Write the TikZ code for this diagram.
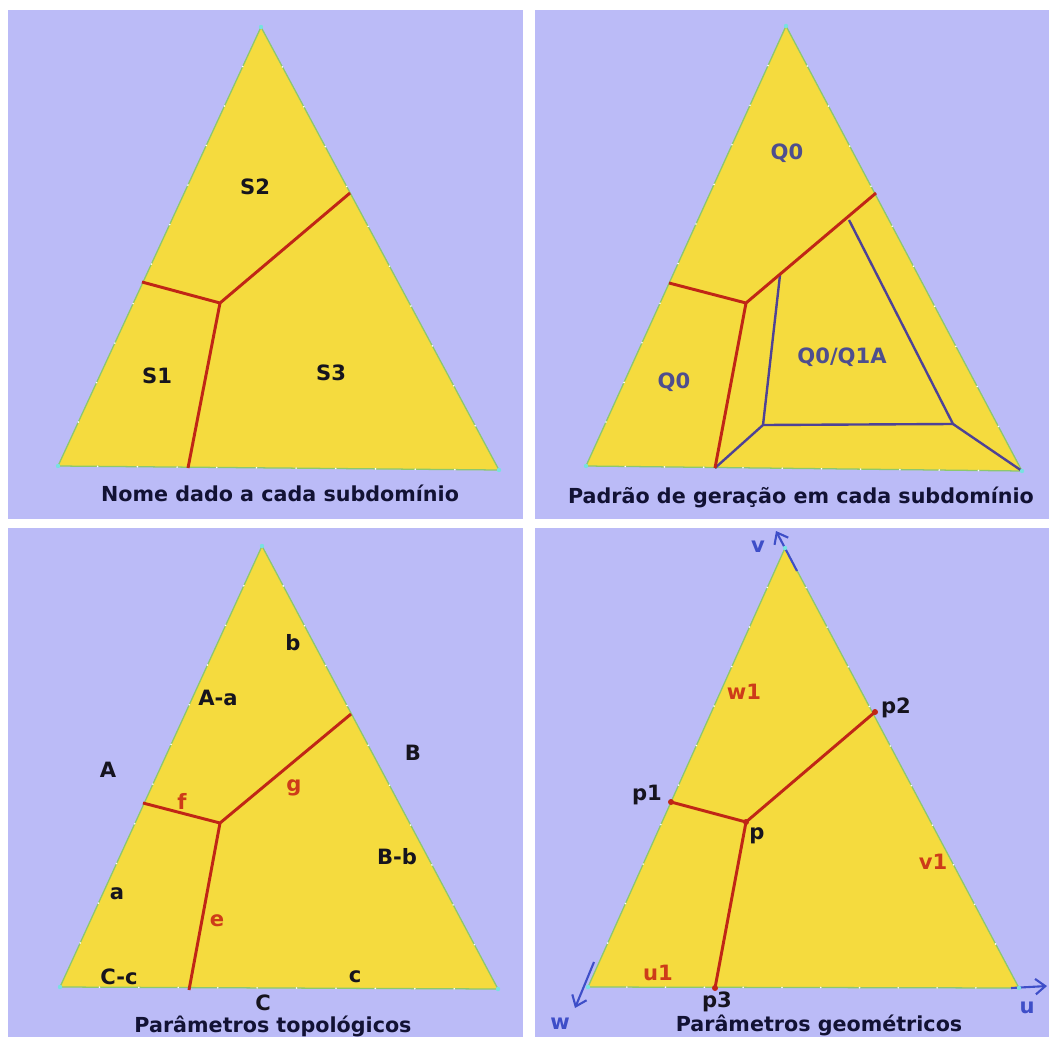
\documentclass[tikz,border=0pt]{standalone}
\usepackage{fontspec}
\setmainfont{DejaVu Sans}
\usetikzlibrary{arrows.meta,calc}

\definecolor{lavender}{RGB}{187,187,247}
\definecolor{triyellow}{RGB}{245,219,62}
\definecolor{edgegreen}{RGB}{140,200,110}
\definecolor{vertcyan}{RGB}{120,225,225}
\definecolor{cutred}{RGB}{192,38,22}
\definecolor{quadblue}{RGB}{78,66,150}
\definecolor{lblred}{RGB}{205,60,25}
\definecolor{lblblue}{RGB}{78,78,142}
\definecolor{lbldark}{RGB}{22,20,30}
\definecolor{titlenavy}{RGB}{18,18,52}
\definecolor{axisblue}{RGB}{62,78,200}

\begin{document}
\begin{tikzpicture}[x=0.025cm, y=-0.025cm,
    panel/.style={fill=lavender, draw=none},
    tri/.style={fill=triyellow, draw=edgegreen, line width=0.9pt, line join=round},
    cut/.style={draw=cutred, line width=2.1pt, line join=round},
    qline/.style={draw=quadblue, line width=1.7pt, line join=round},
    axis/.style={draw=axisblue, line width=1.5pt, -{Straight Barb[length=7pt,width=11pt]}},
    lbl/.style={font=\fontsize{15}{17}\selectfont\bfseries, inner sep=0pt},
    dark/.style={lbl, text=lbldark},
    redl/.style={lbl, text=lblred},
    bluel/.style={lbl, text=lblblue},
    axisl/.style={lbl, text=axisblue},
    title/.style={lbl, text=titlenavy, font=\fontsize{14.7}{17}\selectfont\bfseries},
    vdot/.style={fill=vertcyan, draw=none},
    pdot/.style={fill=cutred, draw=none}]

    \useasboundingbox (0,0) rectangle (1049,1037);
    \fill[white] (0,0) rectangle (1049,1037);

    % ============================================================
    % BACKGROUND PANELS
    % ============================================================
    \fill[panel] (8,10) rectangle (523,519);
    \fill[panel] (535,10) rectangle (1049,519);
    \fill[panel] (8,528) rectangle (523,1037);
    \fill[panel] (535,528) rectangle (1049,1037);

    % ============================================================
    % PANEL 1 : NAMES OF THE SUBDOMAINS
    % ============================================================
    \coordinate (a1) at (261,27);
    \coordinate (b1) at (58,466);
    \coordinate (c1) at (499,470);
    \coordinate (j1) at (220,303);
    \coordinate (l1) at (142,282);
    \coordinate (r1) at (350,193);
    \coordinate (d1) at (188,468);
    \draw[tri] (a1) -- (b1) -- (c1) -- cycle;
    \draw[cut] (l1) -- (j1) -- (r1);
    \draw[cut] (j1) -- (d1);
    \node[dark] (s2) at (255,187) {S2};
    \node[dark] (s1) at (157,376) {S1};
    \node[dark] (s3) at (331,373) {S3};
    \node[title] (t1) at (280,493) {Nome dado a cada subdomínio};

    % ============================================================
    % PANEL 2 : GENERATION PATTERN
    % ============================================================
    \coordinate (a2) at (786,26);
    \coordinate (b2) at (586,466);
    \coordinate (c2) at (1022,471);
    \coordinate (j2) at (746,303);
    \coordinate (l2) at (669,283);
    \coordinate (r2) at (876,193);
    \coordinate (d2) at (715,468);
    \coordinate (q1) at (849,220);
    \coordinate (q2) at (953,424);
    \coordinate (q3) at (763,425);
    \coordinate (q4) at (780,275);
    \draw[tri] (a2) -- (b2) -- (c2) -- cycle;
    \draw[qline] (q1) -- (q2) -- (q3) -- (q4);
    \draw[qline] (q3) -- (d2);
    \draw[qline] (q2) -- (c2);
    \draw[cut] (l2) -- (j2) -- (r2);
    \draw[cut] (j2) -- (d2);
    \node[bluel] (q0a) at (787,153) {Q0};
    \node[bluel] (q0b) at (674,382) {Q0};
    \node[bluel] (q0c) at (842,357) {Q0/Q1A};
    \node[title] (t2) at (801,497) {Padrão de geração em cada subdomínio};

    % ============================================================
    % PANEL 3 : TOPOLOGICAL PARAMETERS
    % ============================================================
    \coordinate (a3) at (262,546);
    \coordinate (b3) at (60,987);
    \coordinate (c3) at (498,989);
    \coordinate (j3) at (220,823);
    \coordinate (l3) at (143,803);
    \coordinate (r3) at (351,714);
    \coordinate (d3) at (189,990);
    \draw[tri] (a3) -- (b3) -- (c3) -- cycle;
    \draw[cut] (l3) -- (j3) -- (r3);
    \draw[cut] (j3) -- (d3);
    \node[dark] (lb) at (293,643) {b};
    \node[dark] (laa) at (218,698) {A-a};
    \node[dark] (lB) at (413,753) {B};
    \node[dark] (lA) at (108,770) {A};
    \node[redl] (lf) at (182,801) {f};
    \node[redl] (lg) at (294,788) {g};
    \node[dark] (lbb) at (397,857) {B-b};
    \node[dark] (la) at (117,894) {a};
    \node[redl] (le) at (217,921) {e};
    \node[dark] (lcc) at (119,977) {C-c};
    \node[dark] (lc) at (355,977) {c};
    \node[dark] (lC) at (263,1003) {C};
    \node[title] (t3) at (273,1026) {Parâmetros topológicos};

    % ============================================================
    % PANEL 4 : GEOMETRIC PARAMETERS
    % ============================================================
    \coordinate (a4) at (785,548);
    \coordinate (b4) at (588,987);
    \coordinate (c4) at (1019,988);
    \coordinate (pj) at (746,822);
    \coordinate (pp1) at (671,802);
    \coordinate (pp2) at (875,712);
    \coordinate (pp3) at (715,988);
    \draw[tri] (a4) -- (b4) -- (c4) -- cycle;
    \draw[cut] (pp1) -- (pj) -- (pp2);
    \draw[cut] (pj) -- (pp3);
    \foreach \pt in {pj,pp1,pp2,pp3}
        \fill[pdot] (\pt) circle (3);

    % local axes
    \coordinate (v0) at (797,571);
    \coordinate (v1) at (776,531);
    \coordinate (w0) at (594,962);
    \coordinate (w1) at (575,1008);
    \coordinate (u0) at (1011,988);
    \coordinate (u1) at (1047,986);
    \draw[axis] (v0) -- (v1);
    \draw[axis] (w0) -- (w1);
    \draw[axis] (u0) -- (u1);
    \node[axisl] (lv) at (758,547) {v};
    \node[axisl] (lw) at (560,1024) {w};
    \node[axisl] (lu) at (1027,1008) {u};

    \node[redl] (lw1) at (744,692) {w1};
    \node[dark] (lp2) at (896,708) {p2};
    \node[dark] (lp1) at (647,795) {p1};
    \node[dark] (lp) at (757,836) {p};
    \node[redl] (lv1) at (933,862) {v1};
    \node[redl] (lu1) at (658,973) {u1};
    \node[dark] (lp3) at (717,1002) {p3};
    \node[title] (t4) at (819,1025) {Parâmetros geométricos};

    % ============================================================
    % MESH MARKS ON THE EDGES AND VERTEX DOTS
    % ============================================================
    \foreach \A/\B/\C in {a1/b1/c1, a2/b2/c2, a3/b3/c3, a4/b4/c4} {
        \foreach \t in {0.09,0.18,...,0.92} {
            \fill[white] ($(\A)!\t!(\B)$) circle (0.9);
            \fill[white] ($(\A)!\t!(\C)$) circle (0.9);
            \fill[white] ($(\B)!\t!(\C)$) circle (0.9);
        }
        \fill[vdot] (\A) circle (2.2);
        \fill[vdot] (\B) circle (2.2);
        \fill[vdot] (\C) circle (2.2);
    }

\end{tikzpicture}
\end{document}
